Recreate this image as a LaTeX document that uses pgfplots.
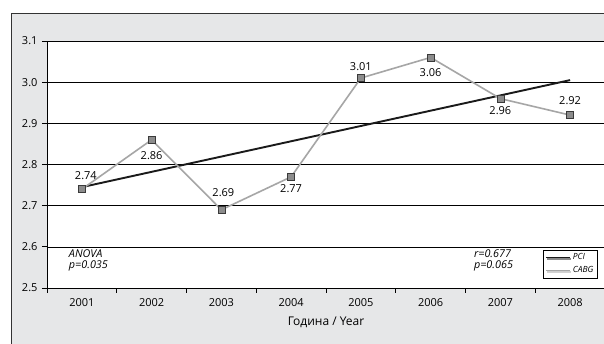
\documentclass[border=0pt]{standalone}
\usepackage{fontspec}
\setmainfont{Open Sans}
\usepackage{pgfplots}
\pgfplotsset{compat=1.18}
\usetikzlibrary{shadows}
\definecolor{bg}{HTML}{E6E7E8}
\definecolor{cabgline}{HTML}{A6A6A6}
\definecolor{cabgfill}{HTML}{8C8C8C}
\definecolor{cabgedge}{HTML}{3A3A3A}
\definecolor{pci}{HTML}{1A1A1A}
\begin{document}
\begin{tikzpicture}[x=1pt,y=1pt]
\path[use as bounding box] (0,0) rectangle (604,-344);
\fill[bg] (11,-13) rectangle (620,-360);
\draw[line width=0.9pt, black!80] (11,-360) -- (11,-13) -- (620,-13);
\begin{axis}[
  at={(47pt,-41pt)}, anchor=north west,
  scale only axis, width=558pt, height=247pt,
  xmin=-0.5, xmax=7.5, ymin=2.5, ymax=3.1,
  axis background/.style={fill=white},
  axis x line*=bottom, axis y line*=left,
  axis line style={black, line width=0.7pt},
  xtick={0,1,2,3,4,5,6,7},
  xticklabels={2001,2002,2003,2004,2005,2006,2007,2008},
  minor xtick={-0.5,0.5,1.5,2.5,3.5,4.5,5.5,6.5},
  major x tick style={draw=none},
  minor tick length=5pt, major tick length=5pt,
  tick align=outside,
  tick style={black, line width=0.7pt},
  ytick={2.5,2.6,2.7,2.8,2.9,3.0,3.1},
  yticklabel style={/pgf/number format/fixed, /pgf/number format/precision=1, /pgf/number format/fixed zerofill, xshift=-1pt},
  xticklabel style={yshift=-2pt},
  /pgf/number format/assume math mode=true,
  ymajorgrids, major grid style={black, line width=0.6pt},
  tick label style={font=\fontsize{11}{12}\selectfont},
  xlabel={Година / Year},
  xlabel style={font=\fontsize{12}{14}\selectfont, yshift=-3pt},
  legend style={at={(0.986,0.154)}, anchor=north east, draw=black, fill=white,
    drop shadow={shadow xshift=1.2pt, shadow yshift=-1.2pt, fill=black!50},
    font=\fontsize{8.5}{9}\selectfont\itshape, inner sep=1.5pt, row sep=1.5pt},
  legend cell align=left,
  legend image code/.code={\draw[#1] (0pt,0pt) -- (24pt,0pt);},
  clip=false,
]
\addplot[pci, line width=1.9pt] coordinates {(0,2.745) (7,3.005)};
\addlegendentry{PCI}
\addplot[cabgline, line width=1.6pt, mark=square*, mark size=3.5pt,
  mark options={fill=cabgfill, draw=cabgedge, line width=0.7pt, solid}]
  coordinates {(0,2.74) (1,2.86) (2,2.69) (3,2.77) (4,3.01) (5,3.06) (6,2.96) (7,2.92)};
\addlegendentry{CABG}
\tikzset{lab/.style={font=\fontsize{11}{12}\selectfont, inner sep=0pt}}
\node[lab, anchor=south, yshift=9pt, xshift=4pt] at (axis cs:0,2.74) {2.74};
\node[lab, anchor=north, yshift=-12pt] at (axis cs:1,2.86) {2.86};
\node[lab, anchor=south, yshift=13pt, xshift=2pt] at (axis cs:2,2.69) {2.69};
\node[lab, anchor=north, yshift=-7pt] at (axis cs:3,2.77) {2.77};
\node[lab, anchor=south, yshift=7pt] at (axis cs:4,3.01) {3.01};
\node[lab, anchor=north, yshift=-11pt] at (axis cs:5,3.06) {3.06};
\node[lab, anchor=north, yshift=-8pt] at (axis cs:6,2.96) {2.96};
\node[lab, anchor=south, yshift=10pt] at (axis cs:7,2.92) {2.92};
\node[anchor=north west, align=left, inner sep=0pt, font=\fontsize{10.8}{10.5}\selectfont\itshape] at (rel axis cs:0.039,0.154) {ANOVA\\p=0.035};
\node[anchor=north west, align=left, inner sep=0pt, font=\fontsize{10.8}{10.5}\selectfont\itshape] at (rel axis cs:0.765,0.154) {r=0.677\\p=0.065};
\end{axis}
\end{tikzpicture}
\end{document}
